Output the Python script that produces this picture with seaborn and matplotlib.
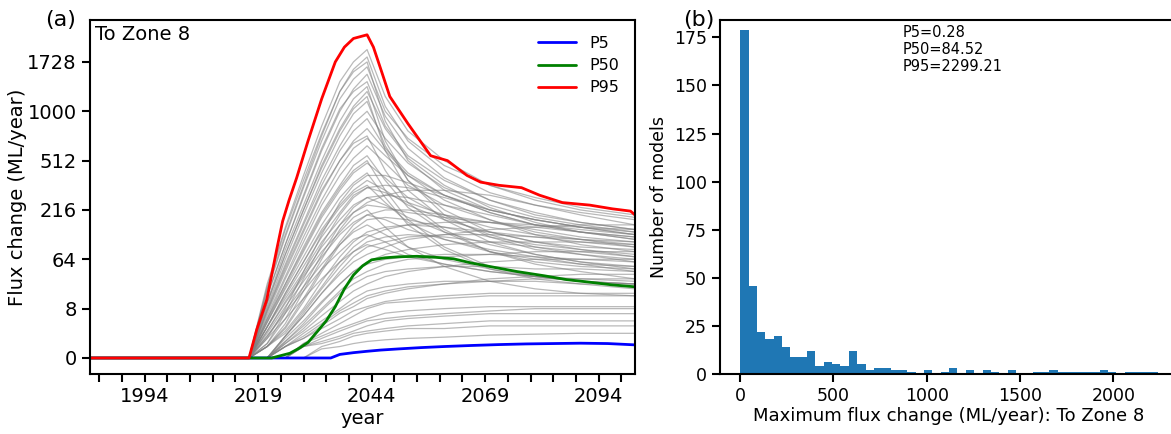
import numpy as np
import pandas as pd
import matplotlib
matplotlib.use("Agg")
import matplotlib.pyplot as plt
import seaborn as sns

# ---- data ----
# percentile lines (ML/year)
p95_years = [1982, 2017, 2018.7, 2020.9, 2023.1, 2024.4, 2025.8, 2027.5, 2030, 2033, 2036, 2038, 2040, 2043,
             2044.4, 2046.3, 2048, 2052, 2057, 2060.7, 2065, 2068, 2072, 2077, 2081,
             2086, 2092, 2097, 2101, 2102]
p95_vals = [0, 0, 1.5, 13, 85, 170, 260, 390, 681, 1158, 1728, 2000, 2172, 2248,
            2000, 1541, 1191, 857, 551, 512, 405, 362, 343, 329, 287,
            250, 238, 221, 211, 195]

p50_years = [1982, 2017, 2022, 2026, 2028, 2030, 2032, 2034, 2036, 2038, 2040, 2042,
             2044, 2047, 2050, 2054, 2058, 2062, 2066, 2070, 2076, 2082, 2087, 2092,
             2097, 2102]
p50_vals = [0, 0, 0, 0.007, 0.06, 0.25, 1.2, 3.4, 9, 22, 38, 52,
            63, 67, 69, 70, 68, 65, 57, 51, 43, 37, 32, 29,
            26, 24]

p5_years = [1982, 2017, 2035, 2037, 2040, 2043, 2046, 2050, 2055, 2060, 2066, 2072,
            2078, 2084, 2090, 2096, 2102]
p5_vals = [0, 0, 0, 0.003, 0.01, 0.02, 0.033, 0.05, 0.075, 0.1, 0.13, 0.16,
           0.185, 0.2, 0.215, 0.2, 0.15]

# a subset of the individual model traces (grey)
gray_years = [2017, 2021, 2025, 2029, 2033, 2037, 2040, 2043, 2047, 2052, 2060, 2070, 2080, 2090, 2102]
gray_curves = [
    [0, 22, 125, 343, 729, 1260, 1602, 1816, 1061, 681, 439, 301, 238, 205, 176],
    [0, 16, 97, 275, 593, 1000, 1295, 1521, 941, 614, 389, 262, 195, 166, 141],
    [0, 11, 74, 216, 475, 804, 1061, 1260, 804, 531, 343, 227, 166, 133, 111],
    [0, 8, 55, 166, 373, 636, 857, 1000, 705, 493, 329, 238, 185, 157, 133],
    [0, 6, 43, 133, 301, 512, 681, 804, 593, 405, 262, 176, 125, 97, 80],
    [0, 4, 33, 104, 238, 405, 531, 636, 493, 343, 238, 176, 133, 111, 91],
    [0, 3, 24, 80, 185, 314, 422, 493, 389, 275, 185, 125, 91, 74, 59],
    [0, 2, 18, 59, 141, 238, 314, 373, 314, 238, 176, 133, 104, 85, 69],
    [0, 2, 14, 43, 104, 176, 238, 275, 238, 185, 133, 97, 74, 59, 47],
    [0, 1, 9, 30, 69, 125, 166, 195, 176, 141, 111, 85, 69, 55, 43],
    [0, 7, 47, 141, 314, 512, 659, 729, 439, 250, 141, 80, 55, 43, 33],
    [0, 12, 85, 238, 512, 885, 1158, 1331, 681, 373, 195, 118, 85, 74, 64],
    [0, 3, 22, 69, 157, 275, 358, 422, 275, 157, 85, 47, 33, 27, 22],
    [0, 24, 141, 373, 754, 1260, 1561, 1728, 885, 512, 314, 216, 176, 149, 133],
    [0, 1.3, 11, 36, 80, 133, 185, 216, 149, 91, 51, 30, 22, 18, 16],
    [0, 0.7, 6, 20, 47, 80, 111, 125, 104, 74, 55, 43, 36, 30, 27],
    [0, 2, 16, 51, 118, 205, 287, 329, 301, 250, 195, 149, 125, 111, 97],
    [0, 4, 27, 91, 205, 343, 475, 551, 373, 227, 133, 80, 59, 51, 47],
    [0, 9, 64, 195, 422, 729, 970, 1125, 636, 373, 216, 133, 104, 91, 85],
    [0, 20, 118, 329, 681, 1158, 1443, 1643, 1000, 705, 475, 343, 275, 227, 195],
    [0, 27, 149, 405, 831, 1405, 1728, 1953, 1191, 779, 512, 343, 262, 216, 185],
    [0, 16, 97, 287, 614, 1030, 1260, 1405, 831, 551, 373, 262, 205, 166, 141],
    [0, 11, 74, 216, 457, 779, 1030, 1191, 593, 314, 176, 104, 74, 59, 51],
    [0, 7, 51, 157, 343, 593, 779, 913, 614, 422, 287, 205, 157, 133, 118],
    [0, 5, 36, 118, 262, 457, 614, 705, 551, 405, 287, 205, 157, 141, 125],
    [0, 3.4, 27, 85, 195, 329, 439, 512, 314, 176, 91, 51, 36, 30, 27],
    [0, 2, 18, 59, 133, 227, 301, 343, 250, 166, 111, 80, 64, 55, 51],
    [0, 1.3, 12, 39, 91, 157, 205, 238, 227, 205, 185, 166, 157, 149, 141],
    [0, 0.7, 7, 24, 55, 97, 133, 157, 125, 91, 64, 47, 36, 30, 27],
    [0, 0.5, 4, 14, 33, 59, 80, 97, 85, 69, 55, 43, 36, 33, 30],
    [0, 0.5, 8, 43, 125, 250, 343, 405, 405, 358, 287, 216, 176, 149, 125],
    [0, 0.2, 4, 24, 74, 157, 227, 275, 287, 275, 238, 195, 157, 133, 111],
    [0, 0.1, 2, 14, 47, 104, 157, 195, 216, 216, 195, 166, 141, 118, 104],
    [0, 0.1, 1.3, 8, 30, 69, 104, 133, 149, 157, 149, 133, 118, 104, 91],
    [0, 0, 0.7, 5, 18, 43, 69, 91, 104, 118, 125, 125, 118, 111, 104],
    [0, 0, 0.5, 3.4, 12, 27, 43, 55, 64, 69, 74, 74, 69, 64, 59],
    [0, 0, 0.2, 1.7, 7, 18, 27, 36, 43, 47, 51, 51, 47, 47, 43],
    [0, 0, 0.1, 1, 3.4, 8, 14, 20, 24, 27, 30, 30, 30, 27, 27],
    [0, 0, 0.1, 0.5, 1.7, 4, 7, 9, 12, 14, 16, 18, 18, 18, 18],
    [0, 0, 0, 0.2, 0.7, 1.7, 2.7, 4, 6, 7, 8, 9, 9, 9, 9],
    [0, 0, 0, 0.1, 0.2, 0.5, 1, 1.3, 1.7, 2.2, 2.7, 3.4, 3.4, 3.4, 3.4],
    [0, 0, 0, 0, 0.05, 0.1, 0.2, 0.3, 0.4, 0.5, 0.6, 0.8, 0.9, 1.0, 1.0],
    [0, 0.1, 2.7, 20, 64, 141, 205, 250, 287, 314, 314, 287, 238, 195, 157],
    [0, 0.1, 1, 7, 24, 59, 91, 118, 141, 157, 166, 166, 149, 133, 118],
    [0, 0, 0.3, 2.2, 8, 20, 33, 43, 55, 64, 69, 74, 80, 80, 80],
    [0, 0, 0.1, 0.7, 2.7, 7, 11, 16, 20, 24, 27, 30, 33, 33, 33],
    [0, 0, 0, 0.1, 0.5, 1.3, 2.2, 3.4, 4.1, 4.9, 5.8, 6.9, 8, 8, 8],
    [0, 0.2, 6, 33, 97, 195, 275, 329, 343, 329, 275, 216, 176, 149, 125],
    [0, 0.1, 1.7, 12, 43, 97, 141, 176, 185, 176, 149, 118, 97, 85, 74],
    [0, 0, 0.7, 6, 22, 51, 80, 104, 118, 125, 118, 104, 91, 80, 69],
    [0, 0, 0.3, 2.7, 11, 27, 43, 59, 74, 85, 97, 104, 104, 104, 97],
    [0, 0, 0.2, 1.3, 5, 12, 20, 27, 36, 43, 51, 59, 64, 64, 64],
    [0, 0, 0.1, 0.5, 2.2, 6, 9, 14, 18, 22, 27, 33, 36, 39, 39],
    [0, 0, 0, 0.2, 1, 2.7, 4.9, 8, 11, 12, 14, 16, 16, 16, 16],
    [0, 0, 0, 0.1, 0.3, 0.7, 1.3, 2.2, 3.4, 4.1, 4.9, 5.8, 5.8, 5.8, 5.8],
    [0, 0, 0, 0, 0.1, 0.3, 0.7, 1, 1.3, 1.7, 1.7, 2.2, 2.2, 2.2, 2.2],
    [0, 0, 0.7, 5, 18, 39, 59, 74, 91, 111, 125, 141, 149, 157, 157],
]

# histogram of maximum flux change: 50 bins from 0 to 2240
hist_counts = [179, 46, 22, 18, 20, 14, 9, 9, 12, 4,
               6, 5, 4, 12, 5, 2, 3, 3, 2, 2,
               1, 0, 2, 0, 1, 3, 0, 2, 0, 2,
               1, 0, 2, 0, 0, 1, 1, 2, 1, 1,
               1, 1, 1, 2, 1, 0, 1, 1, 1, 1]
hist_min, hist_max = 0, 2240
stats_text = "P5=0.28\nP50=84.52\nP95=2299.21"

yticks = [0, 8, 64, 216, 512, 1000, 1728]
xlabel_years = [1994, 2019, 2044, 2069, 2094]

# ---- figure ----
sns.set_style("ticks")
plt.rcParams["font.family"] = ["DejaVu Sans"]
plt.rcParams.update({
    "axes.linewidth": 1.5,
    "axes.edgecolor": "black",
    "axes.labelcolor": "black",
    "text.color": "black",
    "xtick.color": "black",
    "ytick.color": "black",
})

fig = plt.figure(figsize=(11.71, 4.34), dpi=100)
ax = fig.add_axes([0.0769, 0.1382, 0.4654, 0.8157])
ax2 = fig.add_axes([0.6149, 0.1382, 0.39, 0.8157])

# (a) model traces
rows = []
for m, curve in enumerate(gray_curves):
    for yr, v in zip(gray_years, curve):
        rows.append({"model": m, "year": yr, "flux": v})
gray_df = pd.DataFrame(rows)

sns.lineplot(data=gray_df, x="year", y="flux", units="model", estimator=None,
             color="0.5", linewidth=0.9, alpha=0.55, ax=ax, legend=False)
sns.lineplot(x=p5_years, y=p5_vals, color="#0000ff", linewidth=2, label="P5", ax=ax)
sns.lineplot(x=p50_years, y=p50_vals, color="#008000", linewidth=2, label="P50", ax=ax)
sns.lineplot(x=p95_years, y=p95_vals, color="#ff0000", linewidth=2, label="P95", ax=ax)

ax.set_yscale("function", functions=(np.cbrt, lambda v: v ** 3))
ax.set_ylim(-0.275, 2571)
ax.set_yticks(yticks)
ax.set_yticklabels([str(t) for t in yticks])
ax.set_xlim(1982, 2102)
ax.set_xticks(np.arange(1984, 2100, 5))
ax.set_xticklabels([str(t) if t in xlabel_years else "" for t in np.arange(1984, 2100, 5)])
ax.tick_params(labelsize=14, length=6, width=1.5)
ax.set_xlabel("year", fontsize=14, labelpad=2)
ax.set_ylabel("Flux change (ML/year)", fontsize=14, labelpad=0)
ax.text(0.01, 0.985, "To Zone 8", transform=ax.transAxes, va="top", ha="left", fontsize=14)
ax.legend(loc="upper right", frameon=False, fontsize=11.5, handlelength=2.4,
          borderaxespad=0.6, labelspacing=0.45)
for s in ax.spines.values():
    s.set_visible(True)

# (b) histogram
hist_df = pd.DataFrame({
    "center": np.linspace(hist_min, hist_max, len(hist_counts) + 1)[:-1] + (hist_max - hist_min) / len(hist_counts) / 2,
    "count": hist_counts,
})
sns.histplot(data=hist_df, x="center", weights="count", bins=len(hist_counts),
             binrange=(hist_min, hist_max), color="#1f77b4",
             alpha=1, linewidth=0, ax=ax2)
ax2.set_xlim(-108, 2340)
ax2.set_ylim(0, 184)
ax2.set_xticks([0, 500, 1000, 1500, 2000])
ax2.set_yticks([0, 25, 50, 75, 100, 125, 150, 175])
ax2.tick_params(labelsize=12.5, length=6, width=1.5)
ax2.set_xlabel("Maximum flux change (ML/year): To Zone 8", fontsize=13, labelpad=1)
ax2.set_ylabel("Number of models", fontsize=12.5)
ax2.text(0.4, 0.985, stats_text, transform=ax2.transAxes, va="top", ha="left",
         fontsize=10.5, linespacing=1.15)
for s in ax2.spines.values():
    s.set_visible(True)

fig.text(0.052, 0.955, "(a)", fontsize=16, ha="center", va="center")
fig.text(0.597, 0.955, "(b)", fontsize=16, ha="center", va="center")

fig.savefig("out.png", dpi=100)
